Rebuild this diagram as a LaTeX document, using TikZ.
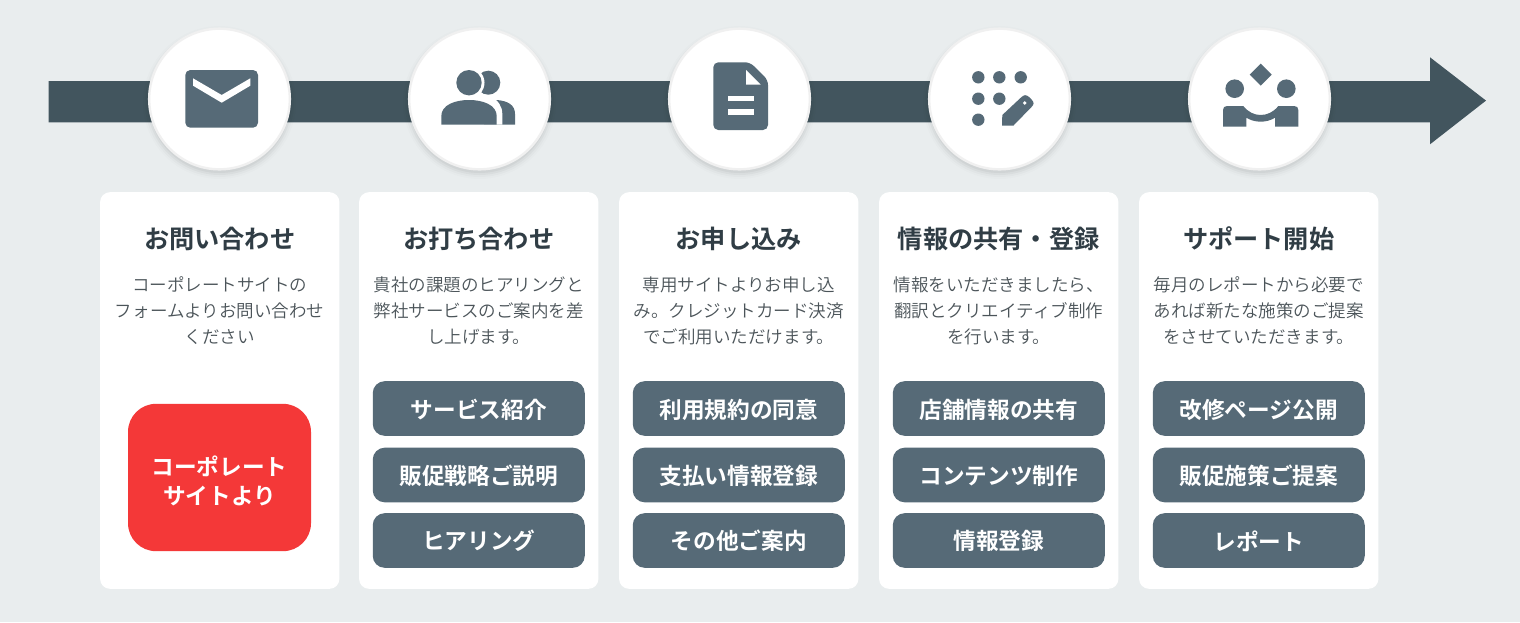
\documentclass[tikz,border=0pt]{standalone}
\usepackage{fontspec}
\setmainfont{Noto Sans CJK JP}
\newfontfamily\jpmed{Noto Sans CJK JP Bold}
\newfontfamily\jplight{Noto Sans CJK JP DemiLight}
\definecolor{bgc}{HTML}{E9EDEE}
\definecolor{arrowc}{HTML}{42555E}
\definecolor{iconc}{HTML}{566A77}
\definecolor{redc}{HTML}{F43838}
\definecolor{titlec}{HTML}{303D45}
\definecolor{bodyc}{HTML}{4B5459}
\definecolor{ringc}{HTML}{F0F0F0}
\tikzset{
  x=0.75pt,y=-0.75pt,
  cardbox/.style={fill=white,rounded corners=7.5pt,minimum width=179.5pt,minimum height=297.5pt,inner sep=0pt,outer sep=0pt},
  btnbox/.style={fill=iconc,rounded corners=9pt,minimum width=159pt,minimum height=41pt,inner sep=0pt,outer sep=0pt},
  btntext/.style={text=white,inner sep=0pt,font=\jpmed\fontsize{17}{20}\selectfont},
  redbox/.style={fill=redc,rounded corners=21pt,minimum width=137.25pt,minimum height=110.5pt,inner sep=0pt,outer sep=0pt},
  redtext/.style={text=white,inner sep=0pt,align=center,font=\jpmed\fontsize{17}{21.75}\selectfont},
  titletext/.style={text=titlec,inner sep=0pt,font=\jpmed\fontsize{18.9}{22}\selectfont},
  bodytext/.style={text=bodyc,inner sep=0pt,align=center,font=\jplight\fontsize{13.15}{19.5}\selectfont},
  disc/.style={circle,fill=white,draw=ringc,line width=1.8pt,minimum size=105.5pt,inner sep=0pt,outer sep=0pt},
  icon/.style={fill=iconc,draw=none},
  cut/.style={fill=white,draw=none}
}
\newcommand{\stepcard}[7]{% cx, id, title, body, b1,b2,b3
  \node[cardbox] (card#2) at (#1,390.5) {};
  \node[titletext] (title#2) at (#1,239) {#3};
  \node[bodytext] (body#2) at (#1,311) {#4};
  \ifx&#5&\else
  \node[btnbox] (btna#2) at (#1,408.5) {};
  \node[btnbox] (btnb#2) at (#1,475) {};
  \node[btnbox] (btnc#2) at (#1,540.5) {};
  \node[btntext] at (#1,410) {#5};
  \node[btntext] at (#1,476) {#6};
  \node[btntext] at (#1,541) {#7};
  \fi
}
\newcommand{\stepdisc}[2]{% cx, id
  \foreach \g/\o in {6/0.012,4/0.02,2/0.03,0/0.04}{
    \fill[black,opacity=\o] (#1,102.5) circle[radius=70.5+\g];
  }
  \node[disc] (disc#2) at (#1,99) {};
}
\begin{document}
\begin{tikzpicture}
\fill[bgc] (0,0) rectangle (1520,622);
\useasboundingbox (0,0) rectangle (1520,622);
% arrow
\fill[arrowc] (48.5,81) -- (1430,81) -- (1430,57.3) -- (1486,100.6) -- (1430,144.3) -- (1430,122.3) -- (48.5,122.3) -- cycle;
% discs
\stepdisc{219.5}{1}
\stepdisc{479.5}{2}
\stepdisc{739.5}{3}
\stepdisc{999.5}{4}
\stepdisc{1259.5}{5}
% envelope
\fill[icon,rounded corners=3.75pt] (185.3,70) rectangle (258,127.7);
\fill[cut] (193,78.3) -- (221.7,95) -- (250.3,78.3) -- (250.3,85.7) -- (221.7,102.7) -- (193,85.7) -- cycle;
% people
\fill[icon] (488.3,82.7) circle[radius=12];
\fill[icon] (484,100) -- (497,100) .. controls (508,101) and (515,105) .. (515,114) -- (515,124.7) -- (484,124.7) -- cycle;
\fill[cut] (469,82.7) circle[radius=15.5];
\fill[cut] (436,124.7) -- (436,96) -- (490,96) .. controls (498,100) and (502.3,106) .. (502.3,114) -- (502.3,124.7) -- cycle;
\fill[icon] (469,82.7) circle[radius=12.7];
\fill[icon] (441.3,124.7) -- (441.3,116) .. controls (441.3,105) and (455,100) .. (469,100) .. controls (483,100) and (496.7,105) .. (496.7,116) -- (496.7,124.7) -- cycle;
% document
\fill[icon,rounded corners=3.75pt] (713.3,62.3) -- (750,62.3) -- (768,80) -- (768,130) -- (713.3,130) -- cycle;
\fill[cut] (746,70) -- (760.7,84.7) -- (746,84.7) -- cycle;
\fill[cut] (728,95.7) rectangle (754,101.3);
\fill[cut] (728,109) rectangle (754,115);
% dots and pencil
\foreach \p in {(978.3,77.3),(999.3,77.3),(1020.7,77.3),(978.3,98.7),(999.3,98.7),(978.3,119.7)}{
  \fill[icon] \p circle[radius=6.2];
}
\fill[icon] (1002,125.7) -- (1002.3,115) -- (1021,97.5) .. controls (1024,94.5) and (1026,94.5) .. (1029,97) -- (1031.5,99.5) .. controls (1034.5,102.5) and (1034,104.5) .. (1031.5,107) -- (1013.3,125.7) -- cycle;
\fill[cut] (1024.7,103) circle[radius=1.8];
% handshake
\fill[icon] (1260.7,63.7) -- (1271.7,74.7) -- (1260.7,85.7) -- (1249.7,74.7) -- cycle;
\fill[icon] (1234.7,88.7) circle[radius=9.3];
\fill[icon] (1286.3,88.7) circle[radius=9.3];
\fill[icon] (1223,126.7) -- (1223,110) .. controls (1223,107.5) and (1224.5,106) .. (1227,106) -- (1243.3,106) .. controls (1248,112) and (1254,115) .. (1260.7,115) .. controls (1267.4,115) and (1273.5,112) .. (1278.3,106) -- (1294.3,106) .. controls (1296.8,106) and (1298.3,107.5) .. (1298.3,110) -- (1298.3,126.7) -- (1275,126.7) -- (1275,117.7) .. controls (1271,120.2) and (1266,121.7) .. (1260.7,121.7) .. controls (1255.4,121.7) and (1250.3,120.2) .. (1246.3,117.7) -- (1246.3,126.7) -- cycle;
% cards
\stepcard{219.75}{1}{お問い合わせ}{コーポレートサイトの\\フォームよりお問い合わせ\\ください}{}{}{}
\node[redbox] (red) at (219.5,477.5) {};
\node[redtext] (redlabel) at (219.5,481) {コーポレート\\サイトより};
\stepcard{478.75}{2}{お打ち合わせ}{貴社の課題のヒアリングと\\弊社サービスのご案内を差\\し上げます。}{サービス紹介}{販促戦略ご説明}{ヒアリング}
\stepcard{738.75}{3}{お申し込み}{専用サイトよりお申し込\\み。クレジットカード決済\\でご利用いただけます。}{利用規約の同意}{支払い情報登録}{その他ご案内}
\stepcard{998.75}{4}{情報の共有・登録}{情報をいただきましたら、\\翻訳とクリエイティブ制作\\を行います。}{店舗情報の共有}{コンテンツ制作}{情報登録}
\stepcard{1258.75}{5}{サポート開始}{毎月のレポートから必要で\\あれば新たな施策のご提案\\をさせていただきます。}{改修ページ公開}{販促施策ご提案}{レポート}
\end{tikzpicture}
\end{document}
